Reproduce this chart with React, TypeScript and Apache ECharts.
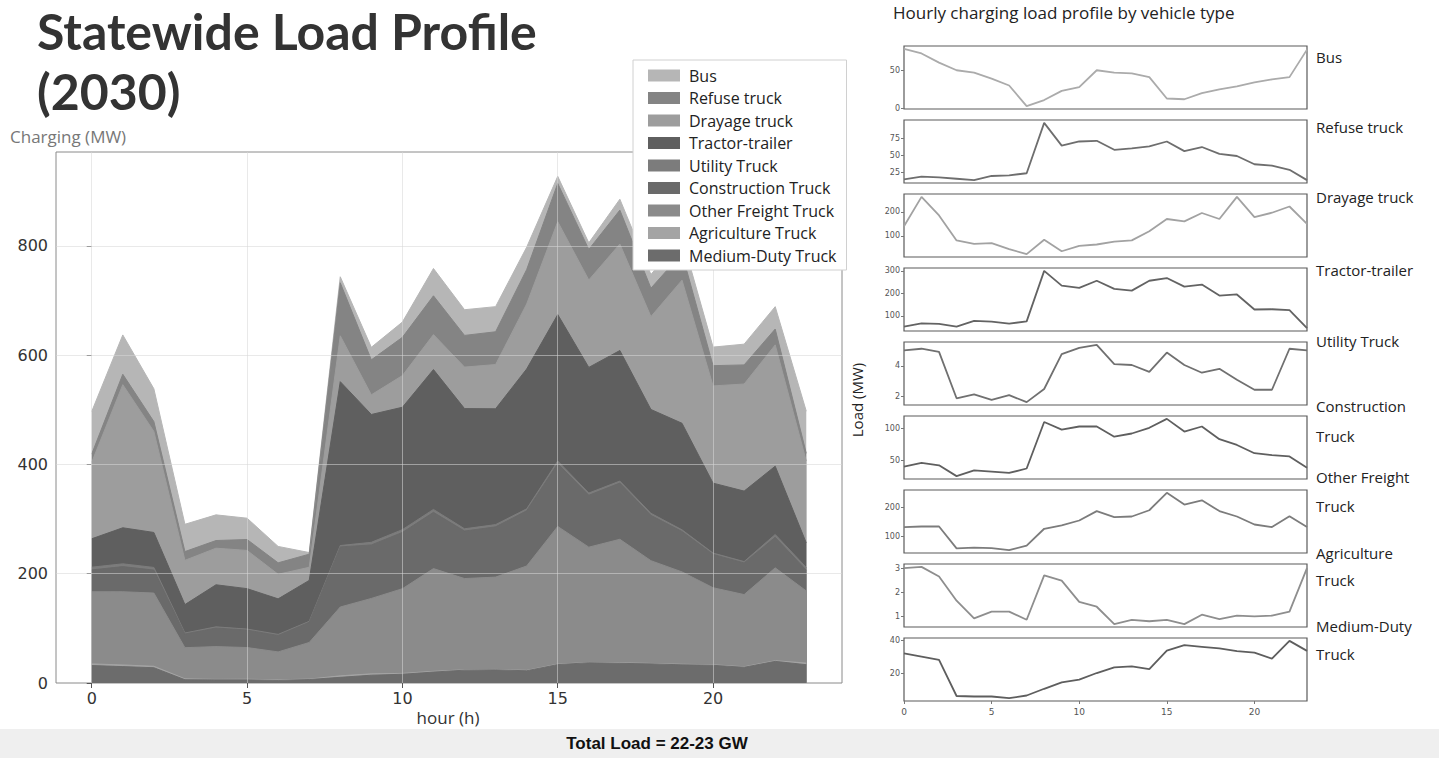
import React, { useEffect, useRef } from "react";
import * as echarts from "echarts";

const hours = [0, 1, 2, 3, 4, 5, 6, 7, 8, 9, 10, 11, 12, 13, 14, 15, 16, 17, 18, 19, 20, 21, 22, 23];

const bus = [78, 72, 60, 50, 47, 39, 30, 3, 11, 23, 28, 50, 47, 46, 41, 13, 12, 20, 25, 29, 34, 38, 41, 77];
const refuse = [15, 19, 18, 16, 14, 20, 21, 24, 97, 64, 70, 71, 58, 60, 63, 70, 56, 62, 52, 49, 37, 35, 29, 14];
const drayage = [140, 262, 185, 81, 67, 70, 45, 24, 84, 36, 58, 64, 76, 81, 119, 170, 160, 195, 170, 262, 178, 196, 222, 150];
const tractor = [52, 66, 64, 52, 77, 74, 65, 75, 300, 234, 224, 256, 220, 212, 256, 268, 230, 239, 190, 195, 128, 129, 125, 45];
const utility = [5.0, 5.1, 4.9, 1.9, 2.15, 1.8, 2.1, 1.65, 2.5, 4.75, 5.15, 5.35, 4.1, 4.05, 3.6, 4.85, 4.05, 3.55, 3.8, 3.1, 2.45, 2.45, 5.1, 5.0];
const construction = [40, 46, 42, 25, 34, 32, 30, 37, 110, 98, 103, 103, 87, 92, 101, 115, 95, 103, 83, 74, 61, 58, 56, 38];
const otherFreight = [132, 134, 134, 57, 60, 58, 51, 67, 126, 138, 155, 188, 167, 169, 191, 252, 211, 226, 188, 169, 141, 132, 170, 132];
const agriculture = [3.0, 3.05, 2.65, 1.65, 0.92, 1.2, 1.2, 0.86, 2.7, 2.48, 1.6, 1.4, 0.68, 0.86, 0.8, 0.86, 0.68, 1.07, 0.89, 1.03, 1.0, 1.03, 1.2, 3.0];
const mediumDuty = [32, 30, 28, 6, 5.7, 5.7, 4.7, 6.3, 10.4, 14.3, 16, 20, 23.5, 24, 22.4, 33.7, 37, 36, 35, 33.3, 32.4, 28.8, 39.6, 33.5];

// legend order (top to bottom); the stack is built bottom-up from the end of this list
const vehicleNames = [
  "Bus",
  "Refuse truck",
  "Drayage truck",
  "Tractor-trailer",
  "Utility Truck",
  "Construction Truck",
  "Other Freight Truck",
  "Agriculture Truck",
  "Medium-Duty Truck",
];
const vehicleValues = [bus, refuse, drayage, tractor, utility, construction, otherFreight, agriculture, mediumDuty];
const areaColors = ["#b6b6b6", "#848484", "#9d9d9d", "#5f5f5f", "#7c7c7c", "#6a6a6a", "#8b8b8b", "#a4a4a4", "#6c6c6c"];
const lineColors = ["#ababab", "#6e6e6e", "#a2a2a2", "#636363", "#707070", "#5f5f5f", "#7c7c7c", "#8e8e8e", "#5e5e5e"];

const panelTitles = [["Bus"], ["Refuse truck"], ["Drayage truck"], ["Tractor-trailer"], ["Utility Truck"], ["Construction", "Truck"], ["Other Freight", "Truck"], ["Agriculture", "Truck"], ["Medium-Duty", "Truck"]];
const panelTickLabels = [[0, 50], [25, 50, 75], [100, 200], [100, 200, 300], [2, 4], [50, 100], [100, 200], [1, 2, 3], [20, 40]];

const mainXTicks = [0, 5, 10, 15, 20];
const mainYTicks = [0, 200, 400, 600, 800];
const smallXTicks = [0, 5, 10, 15, 20];

export default function App() {
  const ref = useRef<HTMLDivElement>(null);

  useEffect(() => {
    document.body.style.margin = "0";
    if (!ref.current) return;
    const chart = echarts.init(ref.current, undefined, { renderer: "svg" });

    const grids: any[] = [{ left: 56, top: 152, width: 786, height: 531, show: true, borderColor: "#8a8a8a", borderWidth: 1, backgroundColor: "transparent" }];
    const xAxes: any[] = [
      {
        type: "value",
        gridIndex: 0,
        min: -1.15,
        max: 24.15,
        axisLine: { show: false },
        splitLine: { show: false },
        axisTick: { show: true, customValues: mainXTicks, length: 5, lineStyle: { color: "#555" } },
        axisLabel: { customValues: mainXTicks, fontSize: 16, color: "#333", fontFamily: "DejaVu Sans", margin: 7 },
      },
    ];
    const yAxes: any[] = [
      {
        type: "value",
        gridIndex: 0,
        min: 0,
        max: 972,
        axisLine: { show: false },
        splitLine: { show: false },
        axisTick: { show: true, customValues: mainYTicks, length: 5, lineStyle: { color: "#555" } },
        axisLabel: { customValues: mainYTicks, fontSize: 16, color: "#333", fontFamily: "DejaVu Sans", margin: 8 },
      },
    ];
    const series: any[] = [];

    // cumulative stack: layer k top = sum of layers k..end (end = bottom layer)
    const n = vehicleNames.length;
    for (let k = 0; k < n; k++) {
      const cum = hours.map((_, i) => {
        let s = 0;
        for (let m = k; m < n; m++) s += vehicleValues[m][i];
        return s;
      });
      const s: any = {
        name: vehicleNames[k],
        type: "line",
        xAxisIndex: 0,
        yAxisIndex: 0,
        symbol: "none",
        data: hours.map((h, i) => [h, cum[i]]),
        color: areaColors[k],
        lineStyle: { width: 1, color: areaColors[k] },
        areaStyle: { color: areaColors[k], opacity: 1, origin: 0 },
        z: 2,
      };
      if (k === n - 1) {
        s.markLine = {
          silent: true,
          symbol: ["none", "none"],
          label: { show: false },
          lineStyle: { color: "rgba(215,215,215,0.55)", width: 1, type: "solid" },
          data: [
            ...mainXTicks.map((v) => ({ xAxis: v })),
            ...mainYTicks.filter((v) => v > 0).map((v) => ({ yAxis: v })),
          ],
        };
      }
      series.push(s);
    }

    const graphics: any[] = [
      { type: "rect", shape: { x: 0, y: 729, width: 1439, height: 29 }, style: { fill: "#efefef" }, z: 0 },
      { type: "text", x: 37, y: 6, style: { text: "Statewide Load Profile", font: "bold 50px Lato", fill: "#333" } },
      { type: "text", x: 37, y: 66, style: { text: "(2030)", font: "bold 50px Lato", fill: "#333" } },
      { type: "text", x: 10, y: 128, style: { text: "Charging (MW)", font: "17px 'Open Sans'", fill: "#777" } },
      { type: "text", x: 448, y: 709, style: { text: "hour (h)", font: "17px 'Open Sans'", fill: "#333", textAlign: "center" } },
      { type: "text", x: 893, y: 4, style: { text: "Hourly charging load profile by vehicle type", font: "17px 'Open Sans'", fill: "#222" } },
      { type: "text", x: 657, y: 735, style: { text: "Total Load = 22-23 GW", font: "bold 17px 'Liberation Sans'", fill: "#111", textAlign: "center" } },
      { type: "text", x: 857, y: 400, rotation: Math.PI / 2, style: { text: "Load (MW)", font: "15px 'Open Sans'", fill: "#222", textAlign: "center", textVerticalAlign: "middle" } },
    ];

    const titleY = [[57], [127], [197], [270], [341], [406, 436], [477, 506], [553, 580], [626, 654]];

    for (let i = 0; i < n; i++) {
      const top = 46 + i * 74;
      const gi = i + 1;
      const last = i === n - 1;
      grids.push({ left: 904, top, width: 403, height: 63, show: true, borderColor: "#5a5a5a", borderWidth: 1.2, backgroundColor: "transparent" });
      xAxes.push({
        type: "value",
        gridIndex: gi,
        min: 0,
        max: 23,
        axisLine: { show: false },
        splitLine: { show: false },
        axisTick: { show: last, customValues: smallXTicks, length: 3, lineStyle: { color: "#777" } },
        axisLabel: { show: last, customValues: smallXTicks, fontSize: 9, color: "#555", fontFamily: "DejaVu Sans", margin: 6 },
      });
      yAxes.push({
        type: "value",
        gridIndex: gi,
        min: (v: any) => v.min - 0.05 * (v.max - v.min),
        max: (v: any) => v.max + 0.05 * (v.max - v.min),
        axisLine: { show: false },
        splitLine: { show: false },
        axisTick: { show: true, customValues: panelTickLabels[i], length: 3, lineStyle: { color: "#777" } },
        axisLabel: { customValues: panelTickLabels[i], fontSize: 8, color: "#555", fontFamily: "DejaVu Sans", margin: 4 },
      });
      series.push({
        name: vehicleNames[i] + " ",
        type: "line",
        xAxisIndex: gi,
        yAxisIndex: gi,
        symbol: "none",
        data: hours.map((h, j) => [h, vehicleValues[i][j]]),
        lineStyle: { width: 1.8, color: lineColors[i] },
        color: lineColors[i],
      });
      panelTitles[i].forEach((t, li) => {
        graphics.push({
          type: "text",
          x: 1316,
          y: titleY[i][li],
          style: { text: t, font: "15px 'Open Sans'", fill: "#222", textVerticalAlign: "middle" },
        });
      });
    }

    chart.setOption({
      animation: false,
      backgroundColor: "#ffffff",
      grid: grids,
      xAxis: xAxes,
      yAxis: yAxes,
      series,
      legend: {
        data: vehicleNames,
        orient: "vertical",
        left: 633,
        top: 60,
        width: 227,
        icon: "rect",
        itemWidth: 32,
        itemHeight: 12,
        itemGap: 5.5,
        padding: [7, 10, 6, 15],
        backgroundColor: "#ffffff",
        borderColor: "#d0d0d0",
        borderWidth: 1,
        textStyle: { fontSize: 16, fontFamily: "Open Sans", color: "#222", padding: [0, 0, 0, 4], lineHeight: 17 },
        z: 10,
      },
      graphic: graphics,
    });

    return () => chart.dispose();
  }, []);

  return <div ref={ref} style={{ width: 1439, height: 758 }} />;
}
